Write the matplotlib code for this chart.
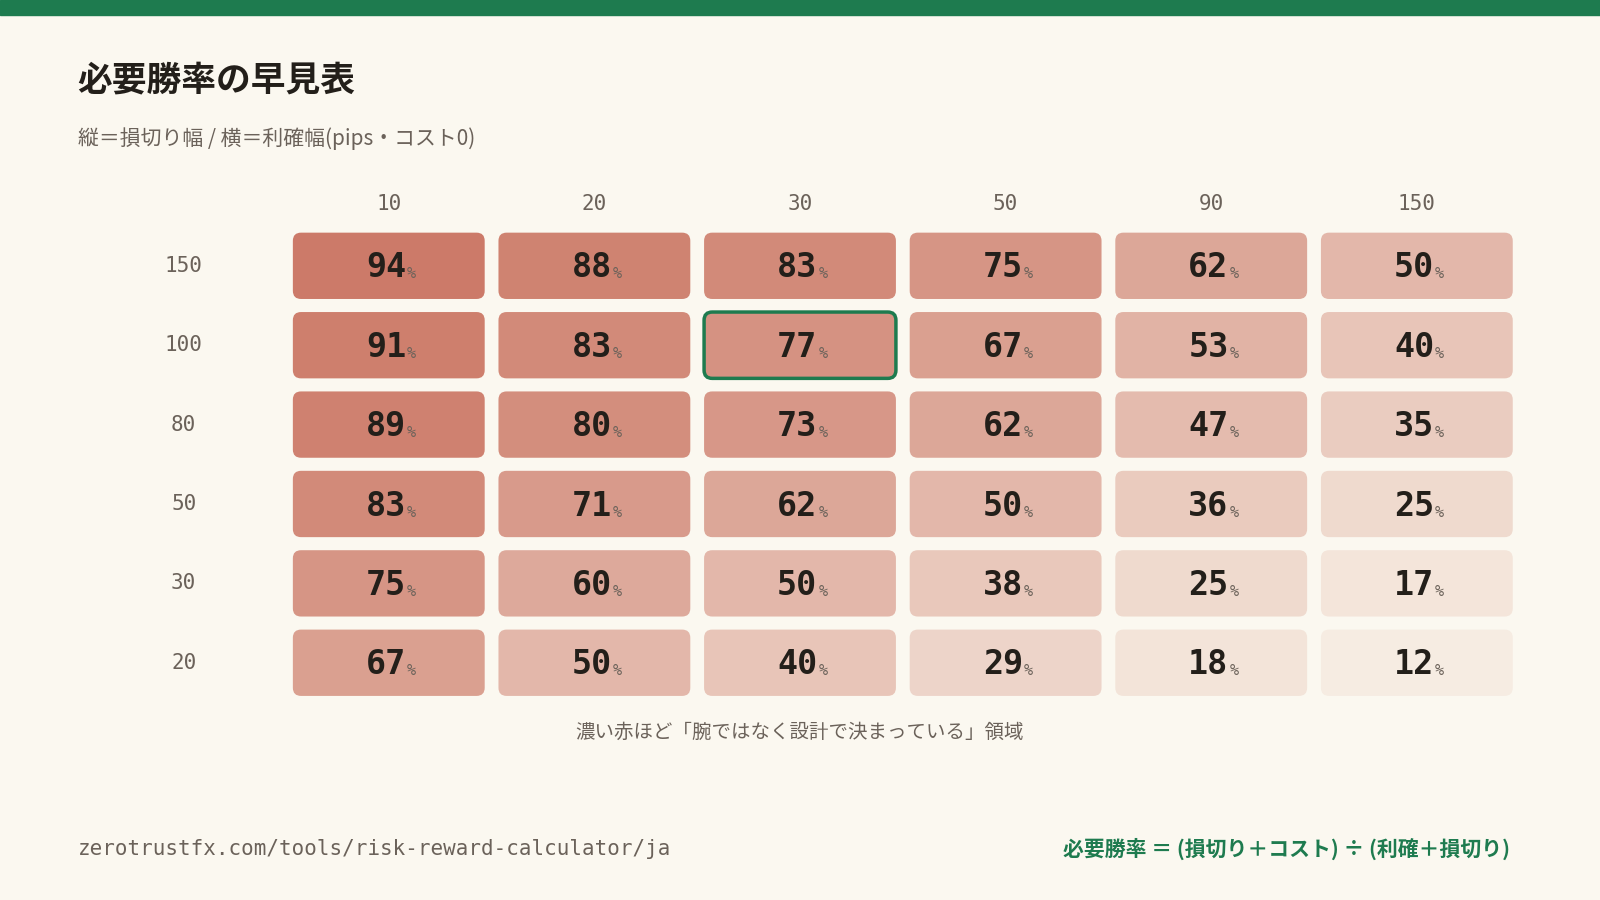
#!/usr/bin/env python3
import numpy as np
import matplotlib
matplotlib.use("Agg")
import matplotlib.pyplot as plt
from matplotlib.patches import FancyBboxPatch, Rectangle

plt.rcParams['font.family'] = ['Noto Sans CJK JP', 'DejaVu Sans']

# ------------------------------------------------------------
# DATA
# ------------------------------------------------------------

take_profit = [10, 20, 30, 50, 90, 150]
stop_loss = [150, 100, 80, 50, 30, 20]
win_rate = [
    [94, 88, 83, 75, 62, 50],
    [91, 83, 77, 67, 53, 40],
    [89, 80, 73, 62, 47, 35],
    [83, 71, 62, 50, 36, 25],
    [75, 60, 50, 38, 25, 17],
    [67, 50, 40, 29, 18, 12],
]
highlight = (1, 2)

BG = "#fbf8f0"
GREEN = "#1e7b4f"
DARK = "#231f1a"
GREY = "#6b625a"
MONO = ["DejaVu Sans Mono", "Noto Sans CJK JP"]

lo = np.array([0.965, 0.925, 0.885])
hi = np.array([0.80, 0.48, 0.41])


def cell_color(v):
    t = (v - 12) / (94 - 12)
    return tuple(lo + (hi - lo) * t)


fig = plt.figure(figsize=(16, 9), dpi=100, facecolor=BG)
ax = fig.add_axes([0, 0, 1, 1])
ax.set_xlim(0, 1568)
ax.set_ylim(882, 0)
ax.axis("off")
ax.set_facecolor(BG)

ax.add_patch(Rectangle((0, 0), 1568, 15, color=GREEN))

ax.text(76, 78, "必要勝率の早見表", fontsize=25, fontweight="bold", color=DARK, va="center")
ax.text(76, 136, "縦＝損切り幅 / 横＝利確幅(pips・コスト0)", fontsize=15, color=GREY, va="center")

x0, w, px = 284, 194, 201.5
y0, h, py = 225, 71, 77.8

for j, tp in enumerate(take_profit):
    ax.text(x0 + j * px + w / 2, 200, str(tp), fontsize=15, color=GREY,
            ha="center", va="center", family=MONO)

for i, sl in enumerate(stop_loss):
    yc = y0 + i * py + h / 2
    ax.text(180, yc, str(sl), fontsize=15, color=GREY, ha="center", va="center", family=MONO)
    for j, v in enumerate(win_rate[i]):
        xl = x0 + j * px
        yt = y0 + i * py
        hl = (i, j) == highlight
        ax.add_patch(FancyBboxPatch((xl + 3, yt + 3), w - 6, h - 6,
                                    boxstyle="round,pad=0,rounding_size=8",
                                    fc=cell_color(v),
                                    ec=GREEN if hl else "none", lw=2.5 if hl else 0))
        xc = xl + w / 2
        ax.text(xc + 17, yc + 2, str(v), fontsize=24, fontweight="bold", color=DARK,
                ha="right", va="center", family=MONO)
        ax.text(xc + 18, yc + 8, "%", fontsize=11, color=GREY,
                ha="left", va="center", family=MONO)

ax.text(784, 718, "濃い赤ほど「腕ではなく設計で決まっている」領域", fontsize=14, color=GREY,
        ha="center", va="center")

ax.text(76, 832, "zerotrustfx.com/tools/risk-reward-calculator/ja", fontsize=15, color=GREY,
        va="center", family=MONO)
ax.text(1480, 832, "必要勝率 ＝ (損切り＋コスト) ÷ (利確＋損切り)", fontsize=15,
        fontweight="bold", color=GREEN, ha="right", va="center")

fig.savefig("out.png", dpi=100, facecolor=BG)
